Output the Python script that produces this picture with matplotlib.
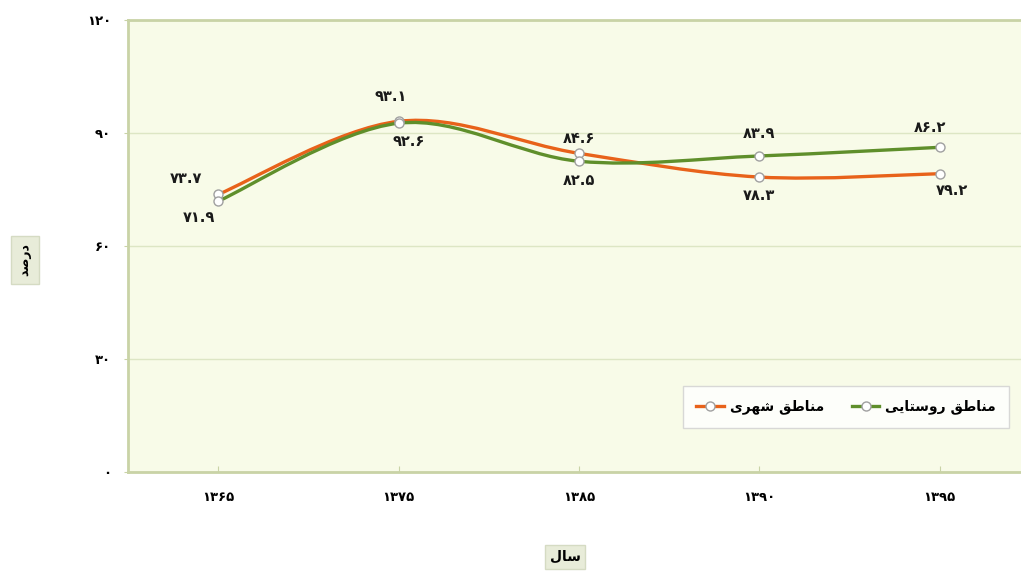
import matplotlib
matplotlib.use("Agg")
import matplotlib.pyplot as plt
import numpy as np
from matplotlib.path import Path
from matplotlib.patches import PathPatch
from matplotlib.lines import Line2D

# ---------------- data ----------------
years = ["۱۳۶۵", "۱۳۷۵", "۱۳۸۵", "۱۳۹۰", "۱۳۹۵"]
urban = [73.7, 93.1, 84.6, 78.3, 79.2]
rural = [71.9, 92.6, 82.5, 83.9, 86.2]
urban_name = "مناطق شهری"
rural_name = "مناطق روستایی"
y_ticks = [0, 30, 60, 90, 120]
y_title = "درصد"
x_title = "سال"

# ---------------- Persian shaping ----------------
FORMS = {  # isolated, final, initial, medial
    'ا': (0xFE8D, 0xFE8E, None, None),
    'د': (0xFEA9, 0xFEAA, None, None),
    'ر': (0xFEAD, 0xFEAE, None, None),
    'و': (0xFEED, 0xFEEE, None, None),
    'ت': (0xFE95, 0xFE96, 0xFE97, 0xFE98),
    'س': (0xFEB1, 0xFEB2, 0xFEB3, 0xFEB4),
    'ش': (0xFEB5, 0xFEB6, 0xFEB7, 0xFEB8),
    'ص': (0xFEB9, 0xFEBA, 0xFEBB, 0xFEBC),
    'ط': (0xFEC1, 0xFEC2, 0xFEC3, 0xFEC4),
    'ق': (0xFED5, 0xFED6, 0xFED7, 0xFED8),
    'ل': (0xFEDD, 0xFEDE, 0xFEDF, 0xFEE0),
    'م': (0xFEE1, 0xFEE2, 0xFEE3, 0xFEE4),
    'ن': (0xFEE5, 0xFEE6, 0xFEE7, 0xFEE8),
    'ه': (0xFEE9, 0xFEEA, 0xFEEB, 0xFEEC),
    'ی': (0xFEEF, 0xFEF0, 0xFEF3, 0xFEF4),
}


def dual(c):
    return c in FORMS and FORMS[c][2] is not None


def shape(s):
    out = []
    for i, c in enumerate(s):
        if c not in FORMS:
            out.append(c)
            continue
        prev = s[i - 1] if i > 0 else None
        nxt = s[i + 1] if i + 1 < len(s) else None
        jp = prev is not None and dual(prev)
        jn = dual(c) and nxt is not None and nxt in FORMS
        f = FORMS[c]
        if jp and jn:
            cp = f[3]
        elif jp:
            cp = f[1]
        elif jn:
            cp = f[2]
        else:
            cp = f[0]
        out.append(chr(cp))
    return "".join(out)[::-1]


FA = "۰۱۲۳۴۵۶۷۸۹"


def fa_num(v, dec=1):
    s = f"{v:.{dec}f}" if dec else f"{v:d}"
    return "".join(FA[int(ch)] if ch.isdigit() else ch for ch in s)


# ---------------- smoothing (Excel-like bezier) ----------------
def smooth_path(xs, ys):
    P = np.column_stack([xs, ys]).astype(float)
    n = len(P)
    verts = [P[0]]
    codes = [Path.MOVETO]
    for i in range(n - 1):
        p0 = P[i - 1] if i > 0 else P[i]
        p1 = P[i]
        p2 = P[i + 1]
        p3 = P[i + 2] if i + 2 < n else P[i + 1]
        c1 = p1 + (p2 - p0) / 6.0
        c2 = p2 - (p3 - p1) / 6.0
        verts += [c1, c2, p2]
        codes += [Path.CURVE4] * 3
    return Path(verts, codes)


# ---------------- figure ----------------
plt.rcParams['font.family'] = ['DejaVu Sans']
fig = plt.figure(figsize=(10.21, 5.71), dpi=100)
fig.patch.set_facecolor("white")
ax = fig.add_axes([128 / 1021, 1 - 472 / 571, 902 / 1021, 452 / 571])
ax.set_facecolor("#f8fbe8")

axis_col = "#c9d3a6"
for sp in ["top", "right"]:
    ax.spines[sp].set_visible(False)
for sp in ["left", "bottom"]:
    ax.spines[sp].set_color(axis_col)
    ax.spines[sp].set_linewidth(2)

ax.axhline(120, color=axis_col, lw=2, zorder=1, clip_on=False)

x = np.arange(len(years))
ax.set_xlim(-0.5, 4.5)
ax.set_ylim(0, 120)
ax.set_yticks(y_ticks)
ax.set_yticklabels([fa_num(v, 0) for v in y_ticks], fontsize=9.5, fontweight="bold")
ax.set_xticks(x)
ax.set_xticklabels(years, fontsize=9.5, fontweight="bold")
ax.tick_params(axis="y", length=3, color=axis_col, pad=9)
ax.tick_params(axis="x", length=4, color=axis_col, direction="in", pad=14)
ax.grid(axis="y", color="#dde6c4", lw=1)
ax.set_axisbelow(True)

orange = "#e8621a"
green = "#5f8f2b"
for ys, col, z in [(urban, orange, 3), (rural, green, 4)]:
    path = smooth_path(x, ys)
    ax.add_patch(PathPatch(path, facecolor="none", edgecolor=col, lw=2.4,
                           zorder=z, capstyle="round"))
for ys, z in [(urban, 5), (rural, 6)]:
    ax.plot(x, ys, ls="none", marker="o", ms=6.5, mfc="white", mec="#a0a0a0",
            mew=1, zorder=z)

# data labels (offsets in points)
u_off = [(-23, 11.5), (-6, 18), (0, 11), (0, -13), (9, -12)]
r_off = [(-14, -11.5), (7, -13), (0, -14), (0, 16.5), (-7, 14.5)]
for xi, v, o in zip(x, urban, u_off):
    ax.annotate(fa_num(v), (xi, v), xytext=o, textcoords="offset points",
                ha="center", va="center", fontsize=10.5, fontweight="bold",
                color="#1a1a1a", zorder=7)
for xi, v, o in zip(x, rural, r_off):
    ax.annotate(fa_num(v), (xi, v), xytext=o, textcoords="offset points",
                ha="center", va="center", fontsize=10.5, fontweight="bold",
                color="#1a1a1a", zorder=7)

# legend
h_u = Line2D([], [], color=orange, lw=2.4, marker="o", ms=6.5, mfc="white", mec="#a0a0a0")
h_r = Line2D([], [], color=green, lw=2.4, marker="o", ms=6.5, mfc="white", mec="#a0a0a0")
leg = ax.legend([h_u, h_r], [shape(urban_name), shape(rural_name)], ncol=2,
                loc="center", bbox_to_anchor=(846 / 1021, 1 - 407 / 571),
                bbox_transform=fig.transFigure, frameon=True, fancybox=False,
                prop={"weight": "bold", "size": 10},
                handlelength=2.0, columnspacing=2.0, borderpad=0.95,
                handletextpad=0.4, borderaxespad=0)
leg.get_frame().set_edgecolor("#d0d0d0")
leg.get_frame().set_facecolor("white")
leg.set_zorder(10)

# axis titles
box = dict(boxstyle="square,pad=0.6", facecolor="#e8ecd9", edgecolor="#d5dbc3")
fig.text(25 / 1021, 1 - 260 / 571, shape(y_title), rotation=90, ha="center",
         va="center", fontsize=9, fontweight="bold", bbox=box)
fig.text(565 / 1021, 1 - 557 / 571, shape(x_title), ha="center", va="center",
         fontsize=10, fontweight="bold", bbox=dict(boxstyle="square,pad=0.35",
                                                   facecolor="#e8ecd9",
                                                   edgecolor="#d5dbc3"))

fig.savefig("out.png", dpi=100)
